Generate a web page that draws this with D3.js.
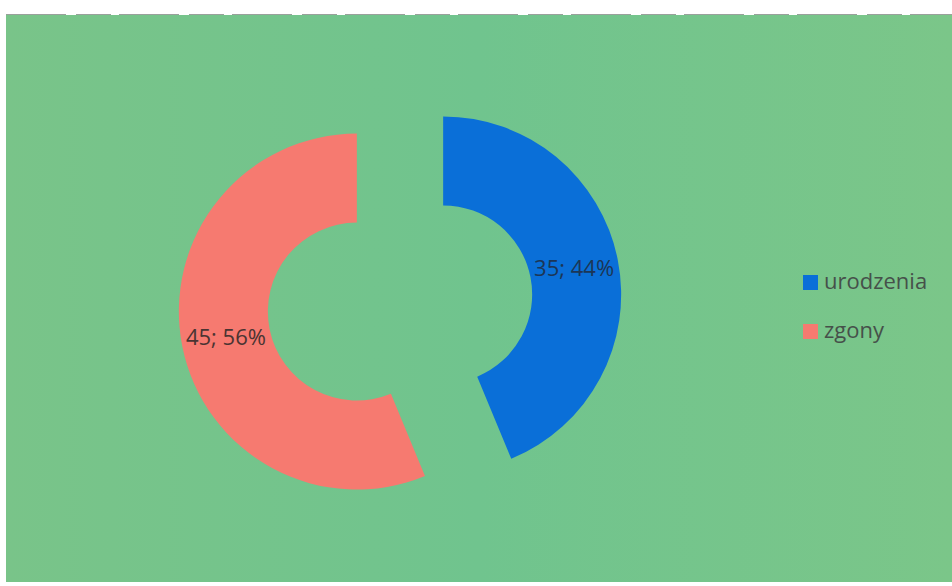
<!DOCTYPE html>
<html>
<head>
<meta charset="utf-8">
<script src="https://cdn.jsdelivr.net/npm/d3@7"></script>
<style>
  body { margin: 0; background: #fff; }
  svg { display: block; }
</style>
</head>
<body>
<script>
// chart data
var categories = ["urodzenia", "zgony"];
var values = [35, 45];
var colors = ["#0a6fd8", "#f67a70"];

var width = 952, height = 586;

var svg = d3.select("body").append("svg")
    .attr("width", width)
    .attr("height", height);

// scanned page background, slightly uneven green
var grad = svg.append("defs").append("linearGradient")
    .attr("id", "bg").attr("x1", "0").attr("x2", "1").attr("y1", "0").attr("y2", "0");
grad.append("stop").attr("offset", "0%").attr("stop-color", "#79c489");
grad.append("stop").attr("offset", "50%").attr("stop-color", "#70c48e");
grad.append("stop").attr("offset", "100%").attr("stop-color", "#7bc689");

svg.append("rect")
    .attr("x", 6).attr("y", 15)
    .attr("width", width - 6).attr("height", 567)
    .attr("fill", "url(#bg)");
svg.append("line")
    .attr("x1", 6).attr("x2", width)
    .attr("y1", 14.5).attr("y2", 14.5)
    .attr("stroke", "#9aa09c")
    .attr("stroke-width", 1)
    .attr("stroke-dasharray", "60,10,35,8");

var total = d3.sum(values);
var cx = 400, cy = 303,
    outerR = 178, innerR = 89,
    explode = 44;

var pie = d3.pie().sort(null).value(function(d) { return d; });
var arc = d3.arc().innerRadius(innerR).outerRadius(outerR);

var arcs = pie(values);

var g = svg.append("g")
    .attr("transform", "translate(" + cx + "," + cy + ")");

var slice = g.selectAll("g.slice")
    .data(arcs)
  .enter().append("g")
    .attr("class", "slice")
    .attr("transform", function(d) {
      var a = (d.startAngle + d.endAngle) / 2;
      return "translate(" + (Math.sin(a) * explode) + "," + (-Math.cos(a) * explode) + ")";
    });

slice.append("path")
    .attr("d", arc)
    .attr("fill", function(d, i) { return colors[i]; });

// data labels: value; percent
slice.append("text")
    .attr("transform", function(d) {
      var c = arc.centroid(d);
      return "translate(" + c[0] + "," + c[1] + ")";
    })
    .attr("text-anchor", "middle")
    .attr("dy", "0.35em")
    .style("font-family", "'Open Sans', 'Liberation Sans', sans-serif")
    .style("font-size", "22px")
    .attr("fill", function(d, i) { return i === 0 ? "#1c3656" : "#4a3432"; })
    .text(function(d) {
      return d.value + "; " + Math.round(d.value / total * 100) + "%";
    });

// legend
var legend = svg.append("g")
    .attr("transform", "translate(803,275)");

var item = legend.selectAll("g")
    .data(categories)
  .enter().append("g")
    .attr("transform", function(d, i) { return "translate(0," + (i * 49) + ")"; });

item.append("rect")
    .attr("width", 15).attr("height", 15)
    .attr("fill", function(d, i) { return colors[i]; });

item.append("text")
    .attr("x", 21).attr("y", 14)
    .style("font-family", "'Open Sans', 'Liberation Sans', sans-serif")
    .style("font-size", "22px")
    .attr("fill", "#46504a")
    .text(function(d) { return d; });
</script>
</body>
</html>
